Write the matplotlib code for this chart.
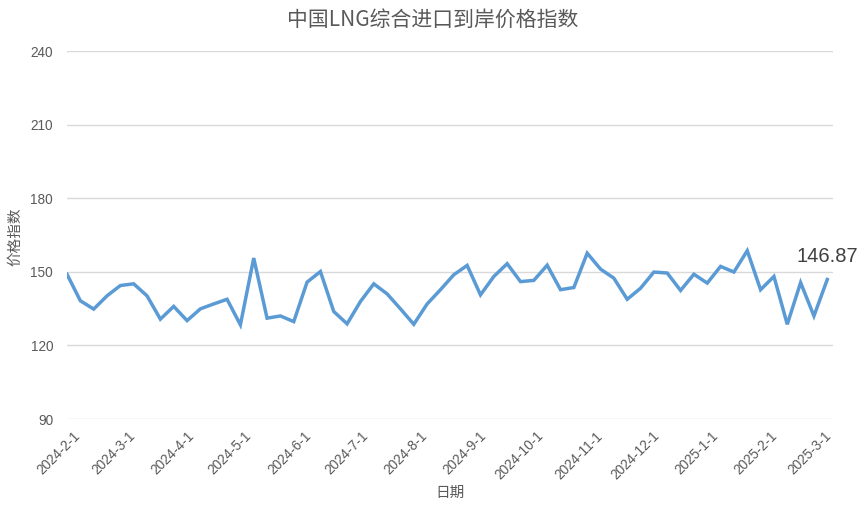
import matplotlib
matplotlib.use("Agg")
import matplotlib.pyplot as plt
import numpy as np
import pandas as pd

plt.rcParams['font.family'] = ['Liberation Sans', 'Noto Sans CJK SC', 'DejaVu Sans']

# weekly index values, 2024-2-1 .. 2025-3-6
dates = pd.date_range('2024-02-01', periods=58, freq='7D')
values = [149.0, 138.2, 134.8, 140.2, 144.4, 145.1, 140.2, 130.7, 135.9, 130.1,
          134.9, 136.9, 138.8, 128.4, 155.6, 131.1, 132.0, 129.7, 145.8, 150.1,
          133.8, 128.8, 137.9, 145.1, 141.0, 134.9, 128.6, 136.9, 142.7, 148.8,
          152.6, 140.6, 148.1, 153.3, 146.0, 146.5, 152.7, 142.7, 143.6, 157.6,
          151.1, 147.4, 138.8, 143.3, 149.9, 149.5, 142.4, 149.0, 145.4, 152.2,
          149.9, 158.6, 142.7, 148.1, 128.6, 145.6, 132.0, 146.87]
tick_dates = pd.date_range('2024-02-01', '2025-03-01', freq='MS')
tick_labels = [f'{d.year}-{d.month}-{d.day}' for d in tick_dates]
yticks = [90, 120, 150, 180, 210, 240]

fig = plt.figure(figsize=(8.65, 5.11), dpi=100)
ax = fig.add_axes([67/865, 1-419/511, (833-67)/865, (419-51)/511])

ax.plot(dates, values, color='#5B9BD5', lw=2.5, solid_joinstyle='miter')

ax.set_ylim(90, 240)
ax.set_yticks(yticks)
ax.set_xlim(pd.Timestamp('2024-02-01'), pd.Timestamp('2025-03-09'))
ax.set_xticks(tick_dates)
ax.set_xticklabels([])

# date labels, slanted, hanging from each tick
for d, lab in zip(tick_dates, tick_labels):
    ax.annotate(lab, xy=(d, 0), xycoords=('data', 'axes fraction'),
                xytext=(6, -10), textcoords='offset pixels',
                rotation=45, ha='right', va='top', rotation_mode='anchor',
                fontsize=9.8, color='#595959', annotation_clip=False)

ax.grid(axis='y', color='#D9D9D9', lw=1)
ax.set_axisbelow(True)
for s in ax.spines.values():
    s.set_visible(False)
ax.tick_params(length=0, colors='#595959', labelsize=9.8)
ax.tick_params(axis='y', pad=10)

ax.annotate(f'{values[-1]:.2f}', (dates[-1], values[-1]), xytext=(0, 10),
            textcoords='offset points', ha='center', va='bottom',
            fontsize=14.5, color='#404040')

fig.text(0.5, 1-20/511, '中国LNG综合进口到岸价格指数', ha='center', va='center',
         fontsize=15, color='#595959', family=['Noto Sans CJK SC'])
fig.text(450/865, 1-493/511, '日期', ha='center', va='center',
         fontsize=10.5, color='#595959', family=['Noto Sans CJK SC'])
fig.text(15/865, 1-237/511, '价格指数', ha='center', va='center', rotation=90,
         fontsize=10.5, color='#595959', family=['Noto Sans CJK SC'])

fig.savefig('out.png', dpi=100)
